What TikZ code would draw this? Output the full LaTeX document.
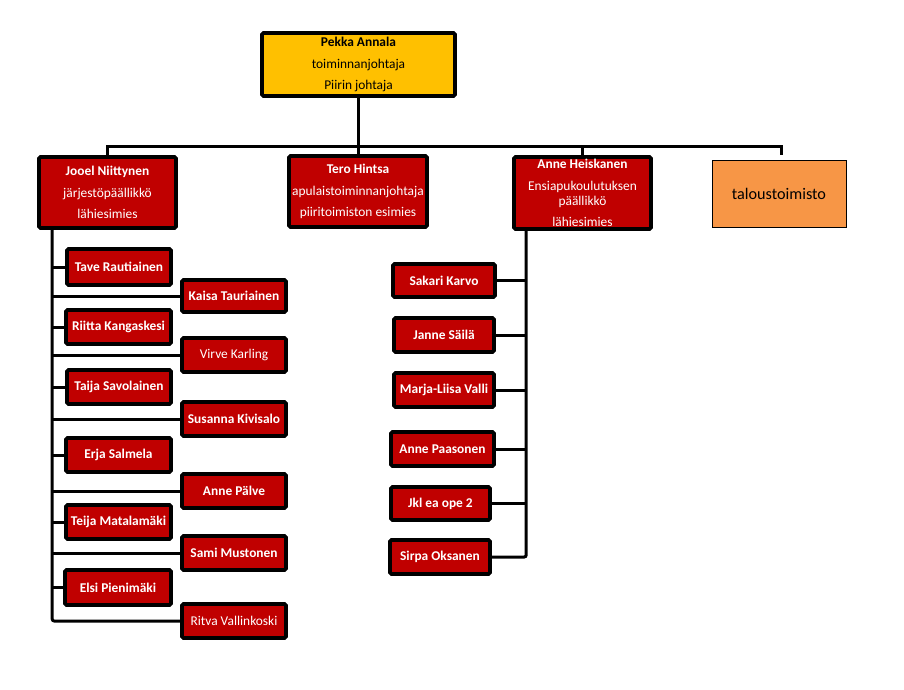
\documentclass[tikz,border=0pt]{standalone}
\usepackage{fontspec}
\setmainfont{Carlito}
\usepackage{xcolor}
\usepackage{tikz}
\usetikzlibrary{positioning, calc}

\definecolor{boxred}{HTML}{C00000}
\definecolor{boxgold}{HTML}{FFC000}
\definecolor{boxorange}{HTML}{F79646}

\begin{document}
\begin{tikzpicture}[x=1pt, y=-1pt,
    orgbox/.style={draw=black, line width=3.6pt, rounded corners=1.5pt, align=center, inner sep=1pt,
                   font=\fontsize{13.4}{21.5}\selectfont},
    redbox/.style={orgbox, fill=boxred, text=white},
    smallbox/.style={redbox, minimum width=104, minimum height=34},
    conn/.style={draw=black, line width=3pt}]
    \useasboundingbox (0,0) rectangle (904,689);

    % Head and the four units
    \node[orgbox, fill=boxgold, minimum width=193, minimum height=63] (pekka) at (358.5,64.5)
      {\textbf{Pekka Annala}\\toiminnanjohtaja\\Piirin johtaja};
    \node[redbox, minimum width=137, minimum height=71] (jooel) at (107.5,192.5)
      {\textbf{Jooel Niittynen}\\järjestöpäällikkö\\lähiesimies};
    \node[redbox, minimum width=138, minimum height=71] (tero) at (358,191.5)
      {\textbf{Tero Hintsa}\\apulaistoiminnanjohtaja\\piiritoimiston esimies};
    \node[redbox, minimum width=137, minimum height=72, inner sep=0pt] (anne) at (582.5,193)
      {\textbf{Anne Heiskanen}\\Ensiapukoulutuksen\\[-6.5pt]päällikkö\\lähiesimies};
    \node[draw=black, line width=0.8pt, fill=boxorange, minimum width=134, minimum height=67,
          font=\fontsize{16.2}{19}\selectfont] (talous) at (779,193.5) {taloustoimisto};

    % Jooel's team, two staggered columns
    \node[smallbox, minimum height=36] (tave) at (119,267) {\textbf{Tave Rautiainen}};
    \node[smallbox, minimum height=32] (kaisa) at (234,296) {\textbf{Kaisa Tauriainen}};
    \node[smallbox, minimum width=105] (riitta) at (118.5,327) {\textbf{Riitta Kangaskesi}};
    \node[smallbox] (virve) at (234,355) {Virve Karling};
    \node[smallbox] (taija) at (119,387) {\textbf{Taija Savolainen}};
    \node[smallbox] (susanna) at (234,419) {\textbf{Susanna Kivisalo}};
    \node[smallbox, minimum width=105] (erja) at (118.5,455) {\textbf{Erja Salmela}};
    \node[smallbox] (annep) at (234,491) {\textbf{Anne Pälve}};
    \node[smallbox, minimum width=105] (teija) at (118.5,522) {\textbf{Teija Matalamäki}};
    \node[smallbox] (sami) at (234,553) {\textbf{Sami Mustonen}};
    \node[smallbox, minimum width=106, minimum height=35] (elsi) at (118,587.5) {\textbf{Elsi Pienimäki}};
    \node[smallbox] (ritva) at (234,621) {Ritva Vallinkoski};

    % Anne's team
    \node[smallbox, minimum width=102, minimum height=33] (sakari) at (444,280.5) {\textbf{Sakari Karvo}};
    \node[smallbox, minimum width=100] (janne) at (444,335) {\textbf{Janne Säilä}};
    \node[smallbox, minimum width=100] (marja) at (444,390) {\textbf{Marja-Liisa Valli}};
    \node[smallbox, minimum width=103] (annepa) at (442.5,449) {\textbf{Anne Paasonen}};
    \node[smallbox, minimum width=99, minimum height=33] (jkl) at (440.5,503.5) {\textbf{Jkl ea ope 2}};
    \node[smallbox, minimum width=100] (sirpa) at (440,557) {\textbf{Sirpa Oksanen}};

    % Top level connectors
    \coordinate (bar) at (358,146);
    \coordinate (talousend) at ($(talous.north)+(2,-5)$);
    \draw[conn] (pekka.south) -- (pekka.south |- bar);
    \draw[conn] (jooel.north) -- (jooel.north |- bar) -| (talousend);
    \draw[conn] (tero.north) -- (tero.north |- bar);
    \draw[conn] (anne.north) -- (anne.north |- bar);

    % Jooel's spine
    \coordinate (jspine) at ($(jooel.south west)+(15,0)$);
    \draw[conn, rounded corners=2pt] (jspine) |- (ritva.west);
    \foreach \n in {tave, kaisa, riitta, virve, taija, susanna, erja, annep, teija, sami, elsi}
      \draw[conn] (jspine |- \n.west) -- (\n.west);

    % Anne's spine
    \coordinate (aspine) at ($(anne.south west)+(14,0)$);
    \draw[conn, rounded corners=2pt] (aspine) |- (sirpa.east);
    \foreach \n in {sakari, janne, marja, annepa, jkl}
      \draw[conn] (aspine |- \n.east) -- (\n.east);
\end{tikzpicture}
\end{document}
